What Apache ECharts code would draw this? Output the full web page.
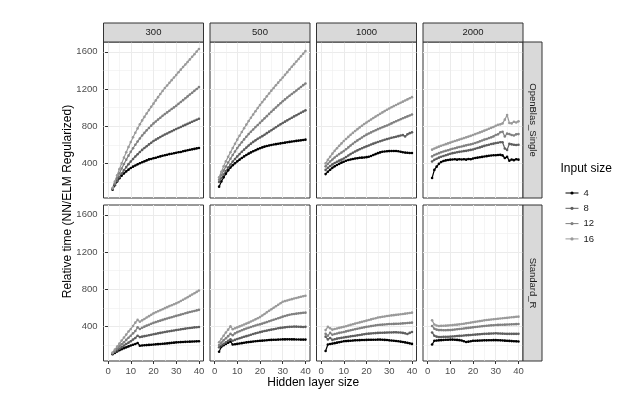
<!DOCTYPE html>
<html>
<head>
<meta charset="utf-8">
<script src="https://cdn.jsdelivr.net/npm/echarts@6/dist/echarts.min.js"></script>
<style>
html,body{margin:0;padding:0;background:#fff;}
#chart{width:630px;height:399px;}
</style>
</head>
<body>
<div id="chart"></div>
<script>
// hidden layer sizes (x)
var hiddenSize = [2,3,4,5,6,7,8,9,10,11,12,13,14,15,16,17,18,19,20,21,22,23,24,25,26,27,28,29,30,31,32,33,34,35,36,37,38,39,40];

var inputSizes = ['4','8','12','16'];
var colNames = ['300','500','1000','2000'];
var rowNames = ['OpenBlas_Single','Standard_R'];
var xTicks = [0,10,20,30,40];
var yTicks = [400,800,1200,1600];

// OpenBlas_Single
var blas300_4 = [118,165,205,240,268,292,314,333,350,365,378,390,402,413,422,432,443,448,456,460,469,475,482,488,493,500,504,509,514,520,523,530,535,541,546,551,556,561,566];
var blas300_8 = [125,170,212,252,290,326,360,392,420,448,474,498,522,545,565,585,604,622,640,655,669,683,697,710,722,735,746,758,770,781,792,803,814,825,836,847,858,869,880];
var blas300_12 = [130,185,240,293,345,393,440,483,525,563,600,635,668,700,728,755,781,806,830,850,871,891,911,930,948,966,984,1002,1020,1040,1060,1080,1100,1120,1140,1160,1180,1200,1220];
var blas300_16 = [135,205,272,338,400,462,520,576,630,681,730,776,820,862,900,937,973,1008,1042,1077,1112,1146,1179,1210,1238,1266,1295,1323,1351,1380,1408,1436,1463,1490,1518,1546,1574,1602,1630];

var blas500_4 = [150,205,250,290,325,355,380,402,422,440,458,475,490,505,518,530,542,553,563,572,580,587,593,598,603,607,611,615,619,623,627,631,635,638,642,645,648,651,655];
var blas500_8 = [200,240,280,318,355,388,420,448,475,500,525,548,570,592,612,631,648,664,678,693,708,725,741,757,773,789,805,820,835,849,863,877,891,905,918,931,944,957,970];
var blas500_12 = [225,275,322,367,410,450,490,528,565,597,628,658,687,715,740,765,790,813,836,860,884,908,932,955,978,1001,1024,1046,1068,1088,1108,1127,1146,1165,1184,1203,1222,1241,1259];
var blas500_16 = [250,310,368,422,472,520,566,611,655,697,738,778,817,855,891,926,961,995,1028,1059,1090,1121,1152,1182,1211,1240,1268,1296,1323,1352,1381,1410,1439,1467,1495,1523,1551,1579,1607];

var blas1000_4 = [285,310,332,352,368,382,395,408,418,428,436,442,448,452,456,460,462,464,467,472,480,490,500,510,518,525,528,530,532,533,534,533,530,525,520,516,514,512,511];
var blas1000_8 = [330,352,372,390,405,418,430,440,452,468,485,500,515,528,540,552,563,573,583,593,603,612,621,630,638,646,654,661,668,675,681,687,693,700,704,690,712,725,734];
var blas1000_12 = [368,395,420,442,463,482,500,516,532,552,572,592,611,630,647,663,679,694,709,721,733,745,757,768,778,788,798,808,818,830,842,853,864,875,885,895,905,915,925];
var blas1000_16 = [400,438,472,505,535,563,590,615,640,663,685,707,728,748,768,787,805,823,840,856,872,888,903,918,933,948,962,976,990,1003,1016,1028,1040,1052,1064,1076,1088,1100,1112];

var blas2000_4 = [243,330,365,395,415,425,432,437,440,442,444,440,445,442,445,440,448,445,452,458,462,466,470,474,478,482,485,487,488,490,492,486,458,470,428,442,435,445,440];
var blas2000_8 = [420,438,450,462,472,480,488,495,503,510,515,520,524,528,532,535,540,545,550,558,565,572,580,588,595,600,608,612,618,622,628,628,560,545,610,605,600,598,600];
var blas2000_12 = [475,490,500,510,520,528,535,542,550,557,563,570,576,582,588,594,600,605,611,620,628,637,646,655,663,672,680,690,705,712,735,740,690,720,715,705,700,712,715];
var blas2000_16 = [548,560,570,580,590,598,607,615,623,632,640,648,656,664,672,680,688,696,705,715,724,733,742,752,762,772,782,792,805,815,820,830,870,920,835,830,848,840,852];

// Standard_R
var stdr300_4 = [100,115,130,143,155,165,175,185,195,203,210,222,192,195,197,199,201,203,205,207,209,211,213,215,217,220,223,225,228,229,231,232,234,235,236,237,238,239,240];
var stdr300_8 = [108,125,142,160,177,193,210,225,240,258,275,300,285,290,295,300,305,310,315,320,325,330,335,340,344,348,352,356,360,364,368,372,376,380,383,386,389,391,393];
var stdr300_12 = [112,135,160,185,208,230,255,278,300,325,350,390,372,385,397,408,418,428,438,446,454,462,470,478,485,492,499,506,513,520,527,534,541,548,554,560,566,572,578];
var stdr300_16 = [118,150,182,215,248,280,312,345,372,405,440,470,450,465,480,495,510,525,540,552,563,574,585,596,607,618,628,638,648,660,673,686,700,713,728,743,757,771,786];

var stdr500_4 = [128,180,198,212,225,238,205,208,212,216,220,224,228,231,234,237,240,243,245,247,249,251,253,255,256,257,258,259,260,260,261,261,260,260,259,259,258,258,258];
var stdr500_8 = [175,195,212,228,245,262,245,255,265,272,280,288,295,302,310,318,325,332,338,344,350,355,360,365,370,375,380,384,387,390,393,395,396,398,397,396,395,394,395];
var stdr500_12 = [200,225,250,272,295,320,305,325,338,348,358,368,377,386,394,402,410,418,422,430,438,446,455,463,472,480,488,495,505,512,519,525,530,534,537,540,543,546,548];
var stdr500_16 = [230,265,300,335,365,400,370,380,390,400,410,420,430,440,452,464,476,488,500,517,534,551,568,585,601,617,633,649,665,672,679,686,693,700,706,712,718,724,730];

var stdr1000_4 = [135,205,210,215,220,225,230,235,240,242,244,246,248,250,251,252,253,254,255,256,256,257,257,258,258,257,255,253,250,248,246,243,240,236,232,228,223,218,212];
var stdr1000_8 = [290,260,275,255,262,268,273,277,281,285,289,293,297,300,304,308,312,316,320,322,324,326,328,330,331,332,333,334,335,335,336,336,335,334,330,325,318,330,340];
var stdr1000_12 = [320,300,330,310,318,324,330,335,340,346,352,358,364,370,375,380,385,390,395,399,403,407,411,415,417,419,421,423,425,426,427,428,429,430,432,434,436,438,440];
var stdr1000_16 = [360,395,380,365,372,378,384,390,395,402,409,416,423,430,436,443,449,456,462,469,475,482,488,495,499,503,507,511,515,518,521,524,527,530,533,537,540,544,548];

var stdr2000_4 = [205,245,248,250,252,254,256,257,258,258,257,255,252,248,240,232,236,240,245,246,247,248,249,250,250,251,251,252,252,251,250,249,247,245,244,242,240,239,238];
var stdr2000_8 = [335,300,290,285,286,287,288,289,290,292,294,296,298,300,302,304,306,308,310,312,314,316,318,320,321,322,323,324,325,324,323,322,321,320,320,320,320,320,320];
var stdr2000_12 = [405,375,365,360,360,359,359,360,360,363,366,369,372,375,378,381,384,387,390,393,396,399,402,405,407,409,411,413,415,416,417,418,419,420,421,422,423,424,425];
var stdr2000_16 = [465,420,410,405,406,407,408,410,412,414,417,419,422,425,429,433,437,441,445,449,453,457,461,465,468,471,474,477,480,482,485,487,490,492,495,498,500,503,505];

var panelData = [
    [[blas300_4,blas300_8,blas300_12,blas300_16],
     [blas500_4,blas500_8,blas500_12,blas500_16],
     [blas1000_4,blas1000_8,blas1000_12,blas1000_16],
     [blas2000_4,blas2000_8,blas2000_12,blas2000_16]],
    [[stdr300_4,stdr300_8,stdr300_12,stdr300_16],
     [stdr500_4,stdr500_8,stdr500_12,stdr500_16],
     [stdr1000_4,stdr1000_8,stdr1000_12,stdr1000_16],
     [stdr2000_4,stdr2000_8,stdr2000_12,stdr2000_16]]
];

var colors = ['#000000','#5E5E5E','#808080','#9A9A9A'];
var font = '"Liberation Sans", Arial, Helvetica, sans-serif';

var colLeft = [103.5, 210, 316.5, 423];
var rowTop = [42, 205];
var panelW = 100, panelH = 156;
var stripH = 19;

function plainNum(v) { return String(v); }

var chart = echarts.init(document.getElementById('chart'));

var grids = [], xAxes = [], yAxes = [], series = [], graphics = [];

for (var r = 0; r < 2; r++) {
    for (var c = 0; c < 4; c++) {
        var g = r * 4 + c;
        grids.push({
            left: colLeft[c], top: rowTop[r], width: panelW, height: panelH,
            show: true, backgroundColor: '#fff', borderColor: '#333', borderWidth: 1
        });
        // major x
        xAxes.push({
            gridIndex: g, type: 'value', min: -2, max: 42,
            axisLine: {show: false},
            axisTick: {show: r == 1, customValues: xTicks, length: 3, lineStyle: {color: '#333', width: 1}},
            axisLabel: {show: r == 1, customValues: xTicks, formatter: plainNum, color: '#4D4D4D', fontSize: 9.5, fontFamily: font, margin: 5},
            splitLine: {show: true, lineStyle: {color: '#EBEBEB', width: 1}}
        });
        // minor x
        xAxes.push({
            gridIndex: g, type: 'value', min: -2, max: 42,
            axisLine: {show: false},
            axisTick: {show: false, customValues: [5,15,25,35]},
            axisLabel: {show: false},
            splitLine: {show: true, lineStyle: {color: '#EFEFEF', width: 0.6}}
        });
        yAxes.push({
            gridIndex: g, type: 'value', min: 28, max: 1705,
            axisLine: {show: false},
            axisTick: {show: c == 0, customValues: yTicks, length: 3, lineStyle: {color: '#333', width: 1}},
            axisLabel: {show: c == 0, customValues: yTicks, formatter: plainNum, color: '#4D4D4D', fontSize: 9.5, fontFamily: font, margin: 6},
            splitLine: {show: true, lineStyle: {color: '#EBEBEB', width: 1}}
        });
        yAxes.push({
            gridIndex: g, type: 'value', min: 28, max: 1705,
            axisLine: {show: false},
            axisTick: {show: false, customValues: [200,600,1000,1400]},
            axisLabel: {show: false},
            splitLine: {show: true, lineStyle: {color: '#EFEFEF', width: 0.6}}
        });

        for (var k = 0; k < 4; k++) {
            var vals = panelData[r][c][k];
            var pts = [];
            for (var i = 0; i < hiddenSize.length; i++) {
                pts.push([hiddenSize[i], vals[i]]);
            }
            series.push({
                type: 'line', name: inputSizes[k],
                xAxisIndex: 2 * g, yAxisIndex: 2 * g,
                data: pts,
                symbol: 'circle', symbolSize: 2.6, showSymbol: true,
                lineStyle: {color: colors[k], width: 1.2},
                itemStyle: {color: colors[k]},
                emphasis: {disabled: true},
                silent: true
            });
        }
    }
}

// column strips
for (var c = 0; c < 4; c++) {
    graphics.push({
        type: 'rect', shape: {x: colLeft[c], y: rowTop[0] - stripH, width: panelW, height: stripH},
        style: {fill: '#D9D9D9', stroke: '#333', lineWidth: 1}, z: 10
    });
    graphics.push({
        type: 'text', x: colLeft[c] + panelW / 2, y: rowTop[0] - stripH / 2,
        style: {text: colNames[c], fill: '#1A1A1A', font: '9.5px ' + font, align: 'center', verticalAlign: 'middle'}, z: 11
    });
}
// row strips
var stripX = colLeft[3] + panelW;
for (var r = 0; r < 2; r++) {
    graphics.push({
        type: 'rect', shape: {x: stripX, y: rowTop[r], width: stripH, height: panelH},
        style: {fill: '#D9D9D9', stroke: '#333', lineWidth: 1}, z: 10
    });
    graphics.push({
        type: 'text', x: stripX + stripH / 2, y: rowTop[r] + panelH / 2, rotation: -Math.PI / 2,
        style: {text: rowNames[r], fill: '#1A1A1A', font: '9.5px ' + font, align: 'center', verticalAlign: 'middle'}, z: 11
    });
}
// axis titles
graphics.push({
    type: 'text', x: (colLeft[0] + colLeft[3] + panelW) / 2, y: 383,
    style: {text: 'Hidden layer size', fill: '#000', font: '12px ' + font, align: 'center', verticalAlign: 'middle'}
});
graphics.push({
    type: 'text', x: 68, y: (rowTop[0] + rowTop[1] + panelH) / 2, rotation: Math.PI / 2,
    style: {text: 'Relative time (NN/ELM Regularized)', fill: '#000', font: '12px ' + font, align: 'center', verticalAlign: 'middle'}
});
// legend title
graphics.push({
    type: 'text', x: 560.5, y: 169,
    style: {text: 'Input size', fill: '#000', font: '12px ' + font, align: 'left', verticalAlign: 'middle'}
});

chart.setOption({
    animation: false,
    backgroundColor: '#fff',
    grid: grids,
    xAxis: xAxes,
    yAxis: yAxes,
    legend: {
        data: inputSizes, orient: 'vertical', left: 560, top: 183,
        itemWidth: 13, itemHeight: 4, itemGap: 5.3, selectedMode: false,
        lineStyle: {width: 1},
        textStyle: {fontSize: 9.5, color: '#1A1A1A', fontFamily: font, lineHeight: 10}
    },
    graphic: graphics,
    series: series
});
</script>
</body>
</html>
